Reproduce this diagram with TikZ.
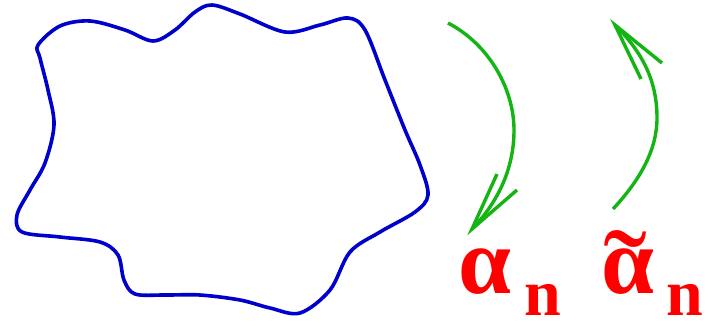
\documentclass[tikz,border=0pt]{standalone}
\usepackage{fontspec}
\setmainfont{Liberation Serif}
\definecolor{blobblue}{RGB}{0,0,204}
\definecolor{arrgreen}{RGB}{20,180,20}
\definecolor{lblred}{RGB}{255,0,0}
\begin{document}
\begin{tikzpicture}[x=1pt,y=-1pt,
  blob/.style={draw=blobblue,line width=3.6pt},
  swing/.style={draw=arrgreen,line width=3.4pt},
  big/.style={text=lblred,inner sep=0pt,anchor=base west,font=\fontsize{95}{95}\selectfont\bfseries},
  sub/.style={text=lblred,inner sep=0pt,anchor=base west,font=\fontsize{66}{66}\selectfont\bfseries}]
\useasboundingbox (0,0) rectangle (725,326);
% blue closed curve
\draw[blob] plot[smooth cycle,tension=0.55] coordinates {
 (38,45) (60,26) (90,21) (125,30) (153,41) (175,30) (195,12) (212,5)
 (240,14) (285,32) (320,25) (348,18) (365,30) (385,80) (405,130) (420,165)
 (428,195) (415,212) (380,232) (350,252) (330,290) (300,313) (270,308)
 (240,300) (200,295) (165,295) (135,294) (124,280) (118,255) (100,242)
 (60,237) (22,232) (17,215) (30,190) (45,163) (54,125) (48,90) (40,58)};
% arrow 1 (down)
\coordinate (a1s) at (448,23);
\coordinate (a1m) at (514,130);
\coordinate (a1t) at (472,229);
\coordinate (a1b1) at (497,174);
\coordinate (a1b2) at (517,190);
\draw[swing] (a1s) .. controls (490,45) and (514,90) .. (a1m)
  .. controls (514,170) and (497,203) .. (a1t);
\draw[swing,line join=miter] (a1b1) -- (a1t) -- (a1b2);
% arrow 2 (up)
\coordinate (a2s) at (613,209);
\coordinate (a2m) at (657,118);
\coordinate (a2t) at (615,25);
\coordinate (a2b1) at (641,79);
\coordinate (a2b2) at (662,63);
\draw[swing] (a2s) .. controls (640,180) and (657,150) .. (a2m)
  .. controls (657,80) and (642,52) .. (a2t);
\draw[swing,line join=miter] (a2b1) -- (a2t) -- (a2b2);
% labels
\node[big] (al1) at (458,293) {α};
\node[sub] (n1) at (524,315) {n};
\node[big] (al2) at (601,293) {\rlap{\hspace{2pt}\raisebox{-26pt}{\fontsize{132}{132}\selectfont\mdseries ˜}}α};
\node[sub] (n2) at (666,315) {n};
\end{tikzpicture}
\end{document}
